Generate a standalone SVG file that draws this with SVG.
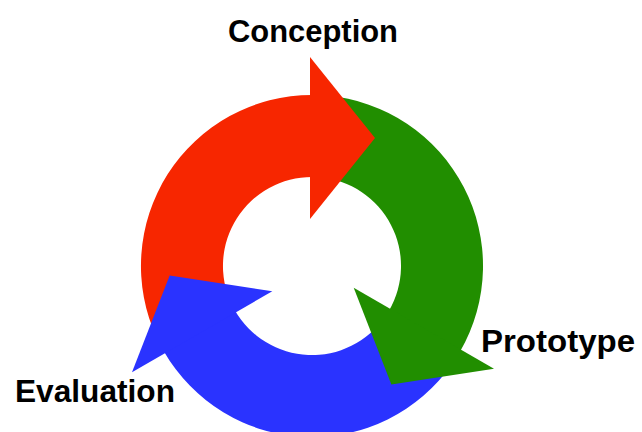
<svg xmlns="http://www.w3.org/2000/svg" width="642" height="432" viewBox="0 0 642 432">
<style>
.lbl{font-family:"Liberation Sans","DejaVu Sans",sans-serif;font-weight:bold;font-size:31px;fill:#000}
.red{fill:#F72600}.green{fill:#218E00}.blue{fill:#2A33FF}
</style>
<defs>
<path id="body" d="M157.0 338.3 A171 171 0 0 1 312 95 L312 177 A89 89 0 0 0 231.3 303.6 Z"/>
<path id="head" d="M310 57 L375 138 L310 219 Z"/>
</defs>
<rect width="642" height="432" fill="#fff"/>
<g id="connectors">
<use href="#body" class="red"/>
<use href="#body" class="green" transform="rotate(120 312 266)"/>
<use href="#body" class="blue" transform="rotate(240 312 266)"/>
<use href="#head" class="red"/>
<use href="#head" class="green" transform="rotate(120 312 266)"/>
<use href="#head" class="blue" transform="rotate(240 312 266)"/>
</g>
<g id="conception"><text class="lbl" x="228" y="42" textLength="170" lengthAdjust="spacingAndGlyphs">Conception</text></g>
<g id="prototype"><text class="lbl" x="481" y="352" textLength="154" lengthAdjust="spacingAndGlyphs">Prototype</text></g>
<g id="evaluation"><text class="lbl" x="15" y="402" textLength="160" lengthAdjust="spacingAndGlyphs">Evaluation</text></g>
</svg>
